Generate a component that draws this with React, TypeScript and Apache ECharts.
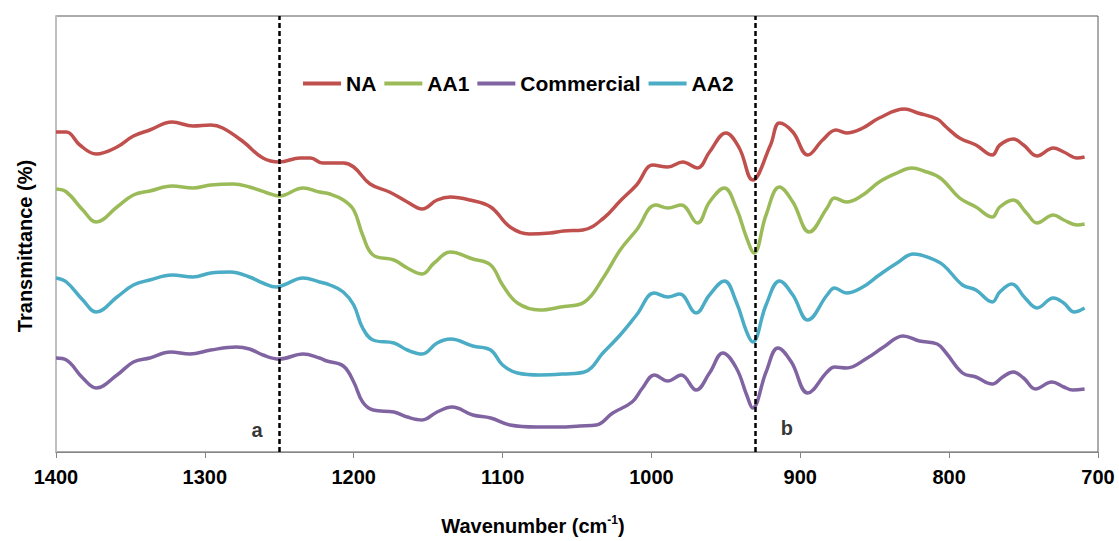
import React, { useEffect, useRef } from "react";
import * as echarts from "echarts";

const FONT = '"Liberation Sans", Arial, sans-serif';

const seriesNames = ["NA", "AA1", "Commercial", "AA2"];
const seriesColors = ["#C0504D", "#9BBB59", "#8064A2", "#4BACC6"];

const xTicks = { min: 700, max: 1400, step: 100 };
const markerPositions = [1250, 930];
const markerLabels = [
  { name: "a", value: [1265, 22] },
  { name: "b", value: [909, 24] },
];

const naData = [
  [1400, 320], [1393, 320], [1384, 307], [1373, 298], [1359, 305], [1348, 316], [1337, 322],
  [1322, 330], [1308, 326], [1296, 327], [1288, 324], [1274, 310], [1261, 294], [1250, 290],
  [1236, 294], [1229, 294], [1221, 289], [1207, 289], [1200, 285], [1189, 268], [1176, 260],
  [1164, 250], [1154, 243], [1144, 252], [1135, 255], [1122, 252], [1108, 245], [1095, 225],
  [1082, 218], [1068, 219], [1059, 221], [1046, 222], [1032, 234], [1021, 251], [1010, 267],
  [999, 287], [989, 285], [979, 290], [969, 284], [961, 300], [950, 319], [941, 304],
  [932, 272], [920, 307], [914, 329], [905, 320], [895, 297], [885, 312], [876, 322],
  [869, 319], [858, 324], [847, 334], [830, 343], [821, 339], [808, 333], [802, 325],
  [793, 314], [782, 307], [771, 297], [766, 307], [757, 313], [750, 307], [741, 296],
  [730, 304], [723, 300], [714, 294], [709, 295],
];

const aa1Data = [
  [1400, 263], [1393, 260], [1382, 242], [1373, 230], [1359, 245], [1348, 257], [1337, 261],
  [1322, 266], [1308, 264], [1296, 267], [1281, 268], [1270, 265], [1258, 259], [1250, 256],
  [1234, 264], [1223, 260], [1216, 258], [1207, 252], [1200, 242], [1194, 217], [1187, 197],
  [1173, 192], [1164, 184], [1154, 178], [1146, 189], [1135, 200], [1120, 193], [1108, 187],
  [1100, 167], [1090, 149], [1075, 142], [1061, 145], [1045, 150], [1032, 175], [1021, 202],
  [1010, 222], [997, 247], [989, 244], [980, 247], [969, 229], [961, 250], [951, 264],
  [943, 244], [936, 214], [931, 199], [923, 237], [914, 265], [905, 250], [894, 220],
  [882, 244], [877, 254], [869, 250], [858, 257], [847, 270], [835, 279], [825, 284],
  [817, 281], [806, 274], [793, 254], [782, 245], [771, 235], [766, 245], [757, 252],
  [748, 239], [741, 229], [730, 237], [723, 232], [714, 227], [709, 228],
];

const commercialData = [
  [1400, 94], [1393, 92], [1382, 74], [1373, 64], [1359, 77], [1348, 90], [1337, 94],
  [1323, 100], [1310, 98], [1296, 102], [1279, 105], [1270, 103], [1261, 97], [1250, 93],
  [1234, 98], [1223, 94], [1218, 91], [1207, 86], [1200, 70], [1194, 50], [1187, 42],
  [1173, 40], [1164, 35], [1154, 32], [1144, 40], [1134, 45], [1120, 37], [1108, 34],
  [1095, 27], [1077, 25], [1062, 25], [1048, 26], [1037, 27], [1026, 39], [1013, 50],
  [1006, 64], [998, 77], [989, 71], [980, 77], [970, 62], [961, 79], [952, 99], [943, 84],
  [936, 57], [932, 44], [923, 80], [915, 104], [906, 90], [895, 59], [882, 80], [877, 85],
  [869, 84], [855, 94], [844, 105], [831, 116], [820, 111], [808, 108], [802, 99],
  [791, 79], [782, 75], [771, 68], [764, 75], [757, 80], [750, 74], [742, 63], [731, 70],
  [723, 65], [717, 62], [709, 63],
];

const aa2Data = [
  [1400, 174], [1393, 170], [1382, 152], [1373, 140], [1359, 155], [1348, 167], [1337, 172],
  [1322, 177], [1308, 175], [1296, 179], [1283, 180], [1270, 175], [1261, 169], [1252, 165],
  [1247, 167], [1234, 174], [1223, 170], [1216, 167], [1207, 160], [1200, 147], [1194, 124],
  [1187, 112], [1173, 109], [1164, 102], [1154, 98], [1144, 109], [1135, 113], [1120, 106],
  [1108, 102], [1100, 87], [1090, 79], [1075, 77], [1059, 78], [1045, 80], [1032, 100],
  [1021, 117], [1010, 137], [998, 159], [989, 155], [981, 158], [970, 139], [961, 157],
  [951, 171], [943, 150], [936, 120], [932, 110], [923, 147], [914, 171], [905, 157],
  [895, 132], [882, 157], [877, 164], [869, 159], [858, 165], [847, 177], [835, 189],
  [824, 198], [813, 194], [804, 187], [791, 167], [782, 162], [771, 150], [766, 160],
  [758, 168], [749, 154], [741, 144], [730, 154], [723, 149], [716, 140], [709, 144],
];

const allData = [naData, aa1Data, commercialData, aa2Data];

export default function App() {
  const ref = useRef<HTMLDivElement>(null);

  useEffect(() => {
    document.body.style.margin = "0";
    if (!ref.current) return;
    const chart = echarts.init(ref.current, undefined, { renderer: "svg" });

    const lineSeries: any[] = seriesNames.map((name, i) => ({
      name,
      type: "line",
      data: allData[i],
      symbol: "none",
      smooth: 0.4,
      z: 3,
      lineStyle: { color: seriesColors[i], width: 3.5 },
      itemStyle: { color: seriesColors[i] },
      ...(i === 0
        ? {
            markLine: {
              silent: true,
              symbol: ["none", "none"],
              label: { show: false },
              lineStyle: { color: "#000", type: [5, 3], width: 2.5 },
              data: markerPositions.map((x) => ({ xAxis: x })),
            },
          }
        : {}),
    }));

    lineSeries.push({
      name: "labels",
      type: "scatter",
      data: markerLabels,
      symbolSize: 0,
      silent: true,
      label: {
        show: true,
        position: "inside",
        formatter: "{b}",
        color: "#000",
        fontSize: 20,
        fontWeight: "bold",
        fontFamily: FONT,
      },
    });

    chart.setOption({
      animation: false,
      grid: {
        left: 56,
        right: 21,
        top: 16,
        bottom: 89,
        show: true,
        borderColor: "#595959",
        borderWidth: 1,
      },
      legend: {
        data: seriesNames,
        left: 298,
        top: 68,
        icon: "rect",
        itemWidth: 38,
        itemHeight: 4,
        itemGap: 8,
        textStyle: { fontSize: 21, fontWeight: "bold", fontFamily: FONT, color: "#000" },
      },
      xAxis: {
        type: "value",
        min: xTicks.min,
        max: xTicks.max,
        interval: xTicks.step,
        inverse: true,
        axisLine: { show: true, lineStyle: { color: "#868686", width: 1 } },
        axisTick: { show: true, length: 6, lineStyle: { color: "#868686" } },
        axisLabel: {
          color: "#000",
          fontSize: 20,
          fontWeight: "bold",
          fontFamily: FONT,
          margin: 15,
          formatter: (v: number) => String(v),
        },
        splitLine: { show: false },
      },
      yAxis: {
        type: "value",
        min: 0,
        max: 436,
        axisLine: { show: true, lineStyle: { color: "#bfbfbf", width: 2 } },
        axisTick: { show: false },
        axisLabel: { show: false },
        splitLine: { show: false },
      },
      graphic: [
        {
          type: "text",
          x: 533,
          y: 526,
          style: {
            text: "{a|Wavenumber (cm}{s|-1}{a|)}",
            align: "center",
            verticalAlign: "middle",
            textAlign: "center",
            textVerticalAlign: "middle",
            rich: {
              a: { fontSize: 20, fontWeight: "bold", fontFamily: FONT, fill: "#000", lineHeight: 24 },
              s: { fontSize: 12, fontWeight: "bold", fontFamily: FONT, fill: "#000", verticalAlign: "top", lineHeight: 24 },
            },
          },
        },
        {
          type: "text",
          x: 25,
          y: 246,
          rotation: Math.PI / 2,
          style: {
            text: "Transmittance (%)",
            fontSize: 20,
            fontWeight: "bold",
            fontFamily: FONT,
            fill: "#000",
            align: "center",
            verticalAlign: "middle",
            textAlign: "center",
            textVerticalAlign: "middle",
          },
        },
      ],
      series: lineSeries,
    });

    return () => chart.dispose();
  }, []);

  return <div ref={ref} style={{ width: 1119, height: 541 }} />;
}
